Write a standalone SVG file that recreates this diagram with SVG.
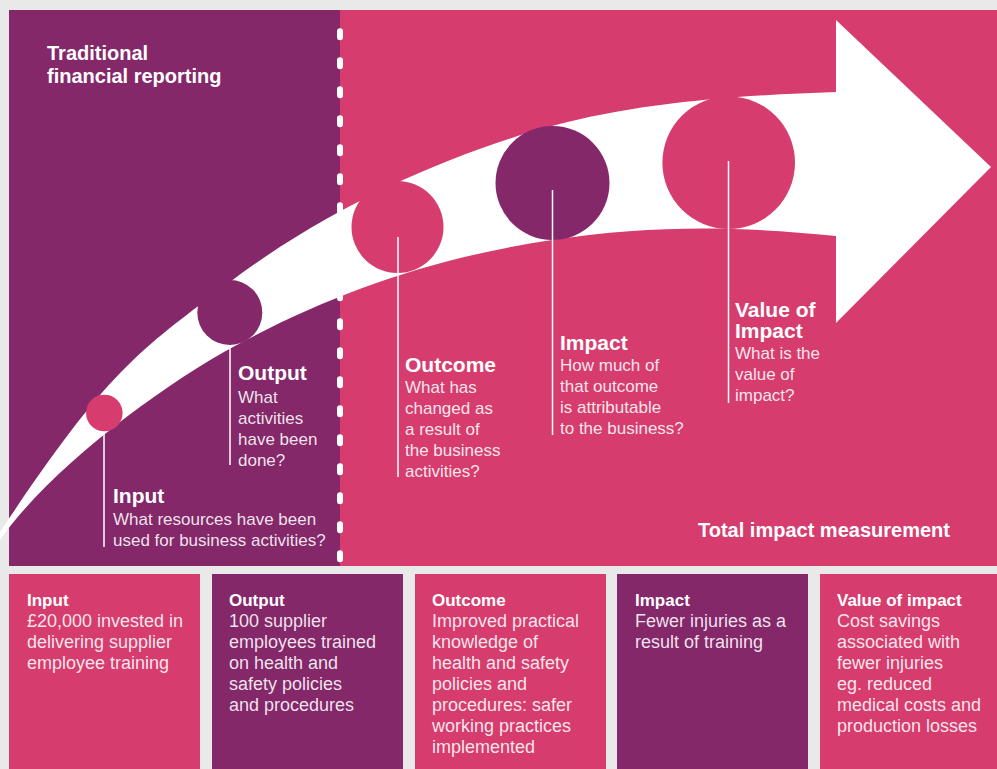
<svg xmlns="http://www.w3.org/2000/svg" width="997" height="769" viewBox="0 0 997 769">
<style>
.pink{fill:#d63d6e}
.purple{fill:#84286a}
.t{font-family:"Liberation Sans",Arial,sans-serif;fill:#fff}
.h{font-weight:bold;font-size:21px}
.b{font-size:17px;fill-opacity:.88}
.bh{font-weight:bold;font-size:17px}
.bb{font-size:18px;fill-opacity:.88}
.big{font-weight:bold;font-size:20px}
.lead{stroke:#fff;stroke-width:1.5;fill:none}
</style>
<defs>
<clipPath id="panelClip"><rect x="0" y="10" width="997" height="556"/></clipPath>
</defs>
<rect width="997" height="769" fill="#e9e9e9"/>
<g id="panel">
<rect class="purple" x="9" y="10" width="331" height="556"/>
<rect class="pink" x="340" y="10" width="657" height="556"/>
<line x1="340" y1="31.3" x2="340" y2="570" stroke="#fff" stroke-width="6" stroke-linecap="round" stroke-dasharray="6 23" clip-path="url(#panelClip)"/>
</g>
<g id="arrow">
<path fill="#fff" d="M0,532 C110,366.5 140,350.6 230,282 C330,206 452,153 552,126 C642,101.7 746,95 836,92 L836,20 L991,167 L836,323 L836,236 C736,226 652,225 552,240 C432,258 333,293 233,347 C163,385 50,468 0,540 Z"/>
</g>
<g id="connectors">
<line class="lead" x1="104" y1="417" x2="104" y2="547"/>
<line class="lead" x1="230" y1="309" x2="230" y2="465"/>
<line class="lead" x1="398" y1="237" x2="398" y2="477"/>
<line class="lead" x1="552.5" y1="190" x2="552.5" y2="435"/>
<line class="lead" x1="728.5" y1="161" x2="728.5" y2="403"/>
</g>
<g id="node-input">
<circle class="pink" cx="104.3" cy="413" r="18.3"/>
<text class="t h" x="113" y="503">Input</text>
<text class="t b" x="113" y="525">What resources have been</text>
<text class="t b" x="113" y="546">used for business activities?</text>
</g>
<g id="node-output">
<circle class="purple" cx="229.8" cy="312.5" r="32.5"/>
<text class="t h" x="238" y="380">Output</text>
<text class="t b" x="238" y="403">What</text>
<text class="t b" x="238" y="424">activities</text>
<text class="t b" x="238" y="445">have been</text>
<text class="t b" x="238" y="466">done?</text>
</g>
<g id="node-outcome">
<circle class="pink" cx="397.5" cy="227" r="46"/>
<line class="lead" x1="398" y1="237" x2="398" y2="273"/>
<text class="t h" x="405" y="372">Outcome</text>
<text class="t b" x="405" y="393">What has</text>
<text class="t b" x="405" y="414">changed as</text>
<text class="t b" x="405" y="435">a result of</text>
<text class="t b" x="405" y="456">the business</text>
<text class="t b" x="405" y="477">activities?</text>
</g>
<g id="node-impact">
<circle class="purple" cx="552.5" cy="183" r="57"/>
<line class="lead" x1="552.5" y1="190" x2="552.5" y2="240"/>
<text class="t h" x="560" y="350">Impact</text>
<text class="t b" x="560" y="371">How much of</text>
<text class="t b" x="560" y="392">that outcome</text>
<text class="t b" x="560" y="413">is attributable</text>
<text class="t b" x="560" y="434">to the business?</text>
</g>
<g id="node-value">
<circle class="pink" cx="728.7" cy="162.7" r="66.3"/>
<line class="lead" x1="728.5" y1="161" x2="728.5" y2="229"/>
<text class="t h" x="735" y="317">Value of</text>
<text class="t h" x="735" y="338">Impact</text>
<text class="t b" x="735" y="359">What is the</text>
<text class="t b" x="735" y="380">value of</text>
<text class="t b" x="735" y="401">impact?</text>
</g>
<g id="labels">
<text class="t big" x="47" y="60">Traditional</text>
<text class="t big" x="47" y="83">financial reporting</text>
<text class="t big" x="698" y="537">Total impact measurement</text>
</g>
<g id="box-input">
<rect class="pink" x="9" y="574" width="191" height="195"/>
<text class="t bh" x="27" y="606">Input</text>
<text class="t bb" x="27" y="627">£20,000 invested in</text>
<text class="t bb" x="27" y="648">delivering supplier</text>
<text class="t bb" x="27" y="669">employee training</text>
</g>
<g id="box-output">
<rect class="purple" x="212" y="574" width="191" height="195"/>
<text class="t bh" x="229" y="606">Output</text>
<text class="t bb" x="229" y="627">100 supplier</text>
<text class="t bb" x="229" y="648">employees trained</text>
<text class="t bb" x="229" y="669">on health and</text>
<text class="t bb" x="229" y="690">safety policies</text>
<text class="t bb" x="229" y="711">and procedures</text>
</g>
<g id="box-outcome">
<rect class="pink" x="415" y="574" width="191" height="195"/>
<text class="t bh" x="432" y="606">Outcome</text>
<text class="t bb" x="432" y="627">Improved practical</text>
<text class="t bb" x="432" y="648">knowledge of</text>
<text class="t bb" x="432" y="669">health and safety</text>
<text class="t bb" x="432" y="690">policies and</text>
<text class="t bb" x="432" y="711">procedures: safer</text>
<text class="t bb" x="432" y="732">working practices</text>
<text class="t bb" x="432" y="753">implemented</text>
</g>
<g id="box-impact">
<rect class="purple" x="617" y="574" width="191" height="195"/>
<text class="t bh" x="635" y="606">Impact</text>
<text class="t bb" x="635" y="627">Fewer injuries as a</text>
<text class="t bb" x="635" y="648">result of training</text>
</g>
<g id="box-value">
<rect class="pink" x="820" y="574" width="177" height="195"/>
<text class="t bh" x="837" y="606">Value of impact</text>
<text class="t bb" x="837" y="627">Cost savings</text>
<text class="t bb" x="837" y="648">associated with</text>
<text class="t bb" x="837" y="669">fewer injuries</text>
<text class="t bb" x="837" y="690">eg. reduced</text>
<text class="t bb" x="837" y="711">medical costs and</text>
<text class="t bb" x="837" y="732">production losses</text>
</g>
</svg>
